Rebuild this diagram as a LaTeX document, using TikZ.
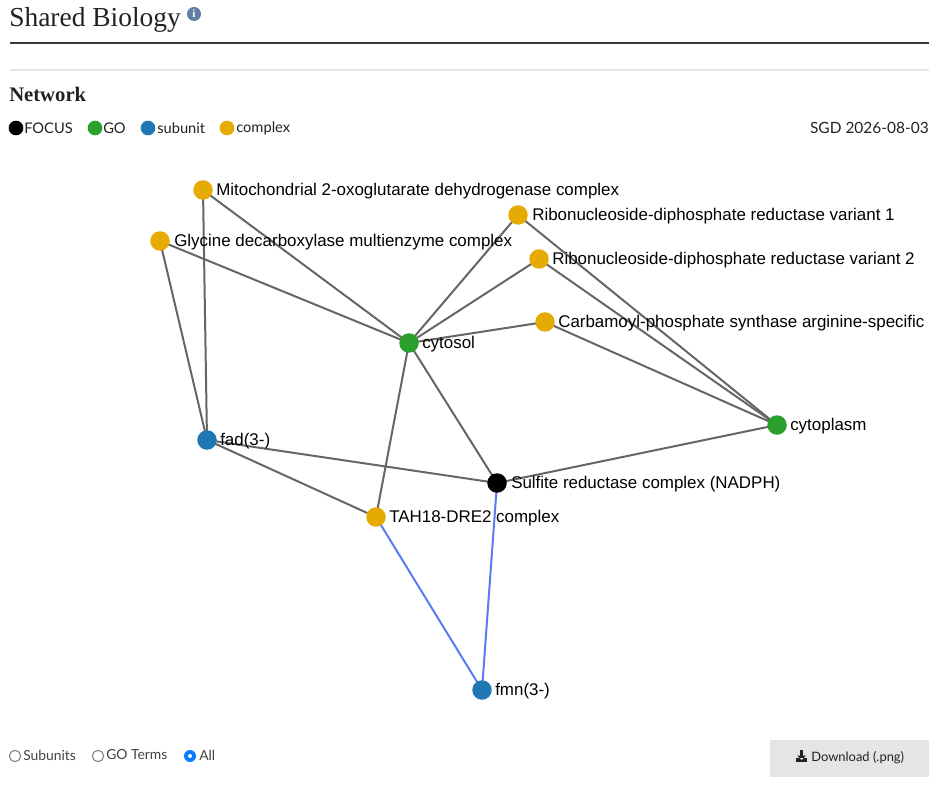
\documentclass[tikz,border=0pt]{standalone}
\usepackage{fontspec}
\setmainfont{Liberation Sans}
\newfontfamily\latofont{Lato}
\newfontfamily\serifhead{Liberation Serif}
\definecolor{corange}{HTML}{E6AB02}
\definecolor{cgreen}{HTML}{2CA02C}
\definecolor{cblue}{HTML}{1F77B4}
\definecolor{cedge}{HTML}{666666}
\definecolor{cblueedge}{HTML}{5B7BF0}
\definecolor{cinfo}{HTML}{5F7FA8}
\definecolor{ctext}{HTML}{222222}
\definecolor{cradio}{HTML}{0A7CFF}
\tikzset{
  dot/.style={circle, inner sep=0pt, minimum size=19.5pt*0.75},
  focusnode/.style={dot, fill=black},
  gonode/.style={dot, fill=cgreen},
  subnode/.style={dot, fill=cblue},
  cpxnode/.style={dot, fill=corange},
  lbl/.style={anchor=west, inner sep=0pt, font=\fontsize{12.7}{14}\selectfont, text=black},
  edge/.style={draw=cedge, line width=1.5pt},
  bedge/.style={draw=cblueedge, line width=1.5pt},
  legtxt/.style={anchor=west, inner sep=0pt, font=\latofont\fontsize{11}{12}\selectfont, text=ctext},
  radtxt/.style={anchor=west, inner sep=0pt, font=\latofont\fontsize{10.4}{12}\selectfont, text=ctext!85},
  legdot/.style={circle, inner sep=0pt, minimum size=11pt},
  radio/.style={circle, draw=gray, line width=0.8pt, inner sep=0pt, minimum size=8.5pt}
}
\begin{document}
\begin{tikzpicture}[x=0.75pt, y=-0.75pt]
\useasboundingbox (0,0) rectangle (941,787);
% header
\node[anchor=base west, inner sep=0pt, font=\serifhead\fontsize{20.6}{24}\selectfont, text=ctext] (title) at (9,27) {Shared Biology};
\node[circle, fill=cinfo, inner sep=0pt, minimum size=10.5pt, text=white, font=\serifhead\bfseries\fontsize{8.5}{8}\selectfont] (info) at (194,14) {i};
\draw[draw=ctext!90, line width=1.6pt] (10,43) -- (929,43);
\draw[draw=black!10, line width=0.8pt] (10,70) -- (929,70);
\node[anchor=base west, inner sep=0pt, font=\serifhead\bfseries\fontsize{15.5}{18}\selectfont, text=ctext] (net) at (9,102) {Network};
% legend
\node[legdot, fill=black] (l1) at (16,128) {};
\node[legtxt] (t1) at (24,128) {FOCUS};
\node[legdot, fill=cgreen] (l2) at (95,128) {};
\node[legtxt] (t2) at (103,128) {GO};
\node[legdot, fill=cblue] (l3) at (148,128) {};
\node[legtxt] (t3) at (157,128) {subunit};
\node[legdot, fill=corange] (l4) at (227,128) {};
\node[legtxt] (t4) at (236,128) {complex};
\node[anchor=east, inner sep=0pt, font=\latofont\fontsize{11.6}{12}\selectfont, text=ctext] (sgd) at (929,128) {SGD 2026-08-03};
% graph node positions
\coordinate (mito) at (203,190);
\coordinate (gly) at (160,241);
\coordinate (rnr1) at (518,215);
\coordinate (rnr2) at (539,259);
\coordinate (carb) at (545,322);
\coordinate (cytosol) at (409,343);
\coordinate (cytoplasm) at (777,425);
\coordinate (fad) at (207,440);
\coordinate (sulf) at (497,483);
\coordinate (tah) at (376,517);
\coordinate (fmn) at (482,690);
% edges
\path[edge] (mito) -- (cytosol);
\path[edge] (mito) -- (fad);
\path[edge] (gly) -- (cytosol);
\path[edge] (gly) -- (fad);
\path[edge] (rnr1) -- (cytosol);
\path[edge] (rnr1) -- (cytoplasm);
\path[edge] (rnr2) -- (cytosol);
\path[edge] (rnr2) -- (cytoplasm);
\path[edge] (carb) -- (cytosol);
\path[edge] (carb) -- (cytoplasm);
\path[edge] (cytosol) -- (tah);
\path[edge] (cytosol) -- (sulf);
\path[edge] (fad) -- (sulf);
\path[edge] (fad) -- (tah);
\path[edge] (sulf) -- (cytoplasm);
\path[bedge] (tah) -- (fmn);
\path[bedge] (sulf) -- (fmn);
% nodes on top
\node[cpxnode] (nmito) at (mito) {};
\node[cpxnode] (ngly) at (gly) {};
\node[cpxnode] (nrnr1) at (rnr1) {};
\node[cpxnode] (nrnr2) at (rnr2) {};
\node[cpxnode] (ncarb) at (carb) {};
\node[gonode] (ncytosol) at (cytosol) {};
\node[gonode] (ncytoplasm) at (cytoplasm) {};
\node[subnode] (nfad) at (fad) {};
\node[focusnode] (nsulf) at (sulf) {};
\node[cpxnode] (ntah) at (tah) {};
\node[subnode] (nfmn) at (fmn) {};
% labels
\node[lbl] (lmito) at (216,191) {Mitochondrial 2-oxoglutarate dehydrogenase complex};
\node[lbl] (lgly) at (174,242) {Glycine decarboxylase multienzyme complex};
\node[lbl] (lrnr1) at (532,216) {Ribonucleoside-diphosphate reductase variant 1};
\node[lbl] (lrnr2) at (552,260) {Ribonucleoside-diphosphate reductase variant 2};
\node[lbl] (lcarb) at (558,323) {Carbamoyl-phosphate synthase arginine-specific};
\node[lbl] (lcytosol) at (422,344) {cytosol};
\node[lbl] (lcytoplasm) at (790,426) {cytoplasm};
\node[lbl] (lfad) at (220,441) {fad(3-)};
\node[lbl] (lsulf) at (511,484) {Sulfite reductase complex (NADPH)};
\node[lbl] (ltah) at (389,518) {TAH18-DRE2 complex};
\node[lbl] (lfmn) at (495,691) {fmn(3-)};
% bottom controls
\node[radio] (r1) at (15,756) {};
\node[radtxt] (rt1) at (23,755) {Subunits};
\node[radio] (r2) at (98,756) {};
\node[radtxt] (rt2) at (106,755) {GO Terms};
\node[circle, fill=cradio, inner sep=0pt, minimum size=9pt] (r3) at (190,756) {};
\node[circle, fill=white, inner sep=0pt, minimum size=3pt] (r3dot) at (r3) {};
\node[radtxt] (rt3) at (199,755) {All};
\node[fill=black!10, minimum width=119.25pt, minimum height=27.75pt, inner sep=0pt] (dl) at (849.5,758.5) {};
\node[anchor=west, inner sep=0pt, font=\latofont\fontsize{9.7}{12}\selectfont, text=ctext] (dlt) at (811,758) {Download (.png)};
% download icon
\coordinate (ic) at (801.5,757);
\fill[ctext] ([shift={(-1.5,-7)}]ic) rectangle ([shift={(1.5,-1)}]ic);
\fill[ctext] ([shift={(-4.5,-1.5)}]ic) -- ([shift={(4.5,-1.5)}]ic) -- ([shift={(0,3)}]ic) -- cycle;
\fill[ctext] ([shift={(-5.5,1)}]ic) rectangle ([shift={(5.5,5)}]ic);
\fill[black!10] ([shift={(-2,1)}]ic) -- ([shift={(2,1)}]ic) -- ([shift={(0,3)}]ic) -- cycle;
\end{tikzpicture}
\end{document}
